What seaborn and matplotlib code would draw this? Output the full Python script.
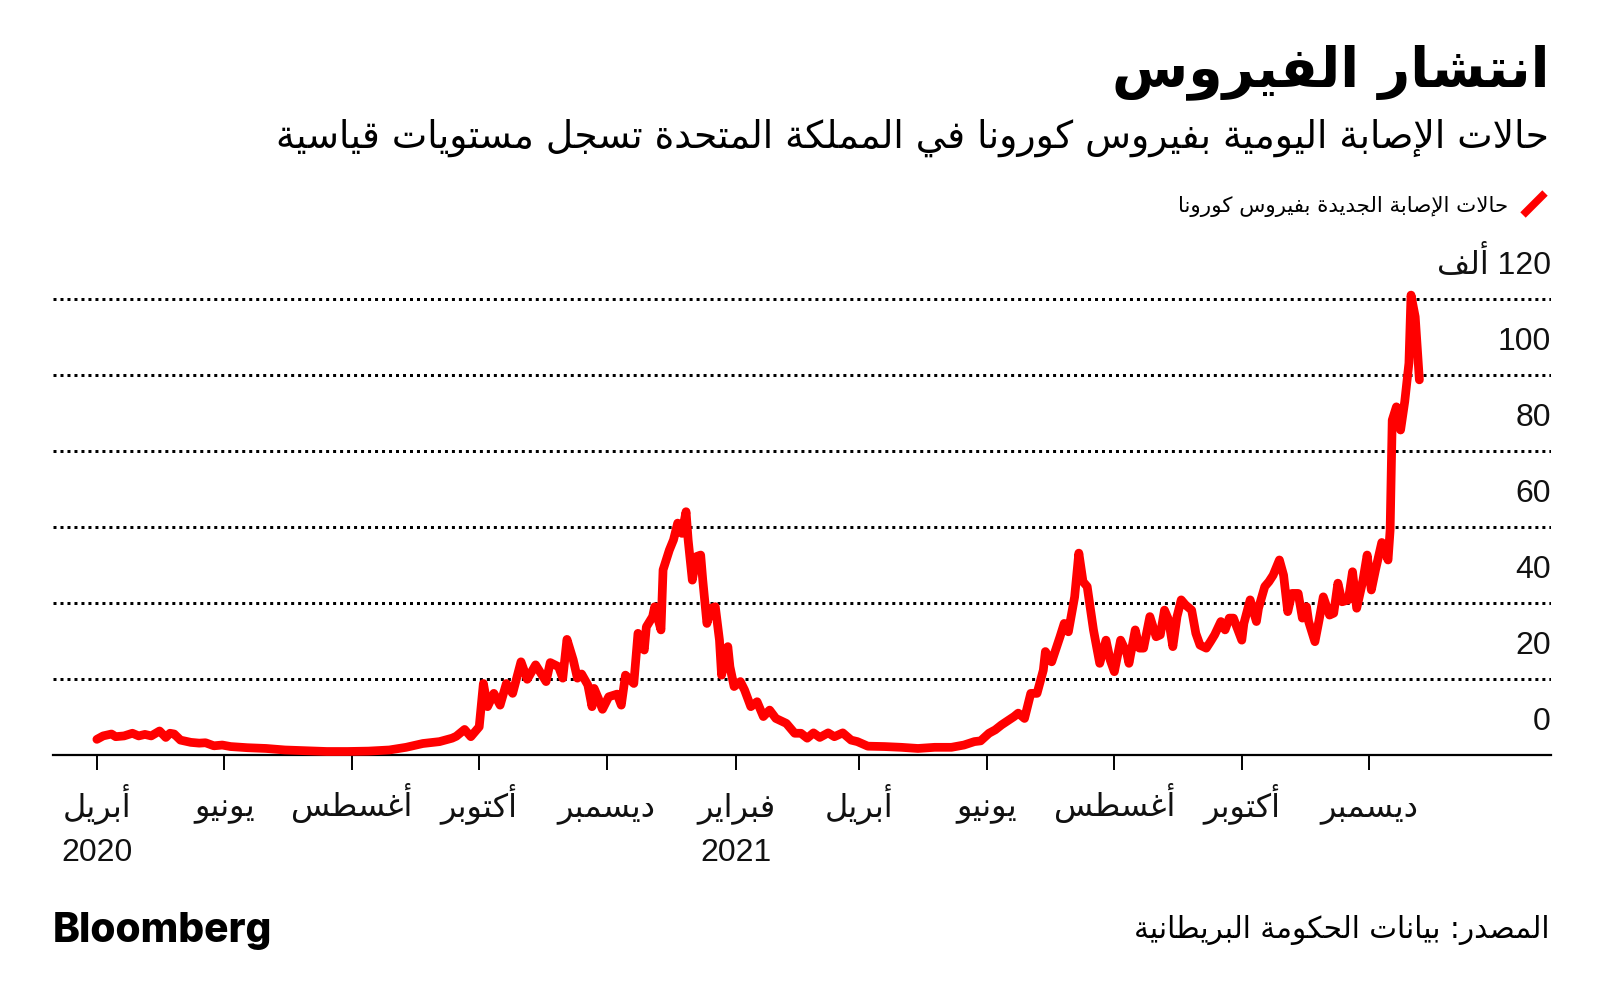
import re
import numpy as np
import pandas as pd
import matplotlib
matplotlib.use("Agg")
import matplotlib.pyplot as plt
from matplotlib.lines import Line2D
from matplotlib.transforms import offset_copy
import seaborn as sns

# ---------------- data ----------------
start_date = "2020-04-01"
day_offsets = [
    0, 3, 7, 9, 13, 17, 20, 23, 26, 30,
    33, 35, 37, 40, 45, 49, 52, 56, 60, 64,
    72, 81, 90, 100, 110, 120, 130, 140, 148, 156,
    164, 170, 172, 176, 179, 183, 185, 187, 190, 193,
    196, 199, 203, 206, 210, 215, 217, 221, 223, 225,
    228, 230, 232, 235, 237, 238, 240, 242, 245, 249,
    251, 253, 257, 259, 262, 263, 266, 267, 270, 271,
    274, 276, 278, 280, 282, 283, 285, 287, 289, 290,
    292, 294, 296, 298, 299, 302, 303, 305, 308, 310,
    313, 316, 319, 322, 325, 330, 334, 337, 340, 343,
    346, 350, 353, 357, 361, 364, 369, 377, 385, 393,
    401, 409, 415, 420, 423, 427, 430, 433, 439, 441,
    444, 447, 450, 453, 454, 457, 461, 463, 465, 468,
    470, 472, 474, 477, 480, 483, 485, 487, 490, 493,
    494, 497, 499, 501, 504, 507, 509, 511, 513, 515,
    517, 519, 521, 524, 526, 528, 531, 533, 535, 538,
    540, 542, 544, 548, 549, 552, 555, 556, 559, 561,
    563, 566, 568, 570, 572, 575, 577, 579, 580, 583,
    585, 587, 590, 592, 594, 596, 599, 601, 603, 606,
    608, 610, 612, 615, 618, 619, 620, 622, 624, 626,
    628, 629, 631, 633,
]
cases_thousands = [
    4.2, 5.1, 5.6, 4.9, 5.1, 5.8, 5.1, 5.5, 5.1, 6.4,
    4.7, 5.8, 5.6, 4.0, 3.4, 3.2, 3.3, 2.5, 2.7, 2.3,
    2.0, 1.8, 1.4, 1.2, 1.0, 1.0, 1.1, 1.4, 2.1, 3.1,
    3.6, 4.5, 5.0, 6.8, 4.9, 7.5, 18.9, 12.8, 16.3, 13.2,
    18.9, 16.3, 24.6, 20.0, 23.8, 19.4, 24.4, 23.3, 20.3, 30.5,
    25.1, 20.3, 21.4, 18.5, 12.8, 17.6, 15.0, 12.1, 15.4, 16.1,
    13.2, 21.1, 18.9, 32.1, 27.7, 33.8, 36.5, 39.1, 33.0, 48.8,
    54.0, 56.7, 61.1, 58.4, 64.1, 56.7, 46.1, 52.3, 52.7, 46.1,
    34.7, 38.7, 39.1, 30.3, 21.1, 28.6, 23.3, 18.1, 19.4, 17.2,
    12.8, 14.1, 10.2, 11.9, 9.7, 8.4, 5.8, 5.8, 4.5, 5.9,
    4.7, 5.9, 4.9, 5.9, 4.0, 3.6, 2.4, 2.3, 2.1, 1.8,
    2.1, 2.1, 2.7, 3.6, 3.8, 5.8, 6.7, 8.0, 10.2, 11.1,
    9.7, 16.3, 16.3, 22.4, 27.3, 24.6, 31.2, 34.7, 32.5, 41.7,
    53.2, 45.7, 44.4, 33.0, 24.2, 30.3, 25.1, 22.0, 30.3, 26.8,
    24.2, 33.0, 28.2, 28.2, 36.5, 31.2, 31.7, 38.2, 35.6, 28.6,
    36.5, 40.9, 39.6, 38.2, 32.1, 29.0, 28.2, 29.9, 31.7, 35.2,
    33.0, 36.1, 36.1, 30.3, 34.7, 40.9, 35.2, 38.7, 44.4, 45.7,
    47.4, 51.4, 47.4, 37.8, 42.6, 42.6, 36.1, 39.1, 35.2, 29.9,
    35.6, 41.7, 36.9, 37.4, 45.3, 40.4, 40.9, 48.3, 38.7, 46.1,
    52.7, 43.5, 48.8, 56.0, 51.4, 59.3, 88.2, 91.7, 85.6, 93.1,
    103.2, 121.1, 115.4, 98.8,
]

tick_dates = ["2020-04-01", "2020-06-01", "2020-08-01", "2020-10-01", "2020-12-01",
              "2021-02-01", "2021-04-01", "2021-06-01", "2021-08-01", "2021-10-01",
              "2021-12-01"]
month_names = ["أبريل", "يونيو", "أغسطس", "أكتوبر", "ديسمبر",
               "فبراير", "أبريل", "يونيو", "أغسطس", "أكتوبر", "ديسمبر"]
year_names = ["2020", "", "", "", "", "2021", "", "", "", "", ""]
y_values = [0, 20, 40, 60, 80, 100, 120]
y_labels = ["0", "20", "40", "60", "80", "100", "120 ألف"]

title_text = "انتشار الفيروس"
subtitle_text = "حالات الإصابة اليومية بفيروس كورونا في المملكة المتحدة تسجل مستويات قياسية"
legend_text = "حالات الإصابة الجديدة بفيروس كورونا"
source_text = "المصدر: بيانات الحكومة البريطانية"
brand_text = "Bloomberg"

# ---------------- minimal Arabic shaping + RTL ordering ----------------
_F = {  # isolated, final, initial, medial
    "\u0621": ("\uFE80", None, None, None),
    "\u0622": ("\uFE81", "\uFE82", None, None),
    "\u0623": ("\uFE83", "\uFE84", None, None),
    "\u0624": ("\uFE85", "\uFE86", None, None),
    "\u0625": ("\uFE87", "\uFE88", None, None),
    "\u0626": ("\uFE89", "\uFE8A", "\uFE8B", "\uFE8C"),
    "\u0627": ("\uFE8D", "\uFE8E", None, None),
    "\u0628": ("\uFE8F", "\uFE90", "\uFE91", "\uFE92"),
    "\u0629": ("\uFE93", "\uFE94", None, None),
    "\u062A": ("\uFE95", "\uFE96", "\uFE97", "\uFE98"),
    "\u062B": ("\uFE99", "\uFE9A", "\uFE9B", "\uFE9C"),
    "\u062C": ("\uFE9D", "\uFE9E", "\uFE9F", "\uFEA0"),
    "\u062D": ("\uFEA1", "\uFEA2", "\uFEA3", "\uFEA4"),
    "\u062E": ("\uFEA5", "\uFEA6", "\uFEA7", "\uFEA8"),
    "\u062F": ("\uFEA9", "\uFEAA", None, None),
    "\u0630": ("\uFEAB", "\uFEAC", None, None),
    "\u0631": ("\uFEAD", "\uFEAE", None, None),
    "\u0632": ("\uFEAF", "\uFEB0", None, None),
    "\u0633": ("\uFEB1", "\uFEB2", "\uFEB3", "\uFEB4"),
    "\u0634": ("\uFEB5", "\uFEB6", "\uFEB7", "\uFEB8"),
    "\u0635": ("\uFEB9", "\uFEBA", "\uFEBB", "\uFEBC"),
    "\u0636": ("\uFEBD", "\uFEBE", "\uFEBF", "\uFEC0"),
    "\u0637": ("\uFEC1", "\uFEC2", "\uFEC3", "\uFEC4"),
    "\u0638": ("\uFEC5", "\uFEC6", "\uFEC7", "\uFEC8"),
    "\u0639": ("\uFEC9", "\uFECA", "\uFECB", "\uFECC"),
    "\u063A": ("\uFECD", "\uFECE", "\uFECF", "\uFED0"),
    "\u0641": ("\uFED1", "\uFED2", "\uFED3", "\uFED4"),
    "\u0642": ("\uFED5", "\uFED6", "\uFED7", "\uFED8"),
    "\u0643": ("\uFED9", "\uFEDA", "\uFEDB", "\uFEDC"),
    "\u0644": ("\uFEDD", "\uFEDE", "\uFEDF", "\uFEE0"),
    "\u0645": ("\uFEE1", "\uFEE2", "\uFEE3", "\uFEE4"),
    "\u0646": ("\uFEE5", "\uFEE6", "\uFEE7", "\uFEE8"),
    "\u0647": ("\uFEE9", "\uFEEA", "\uFEEB", "\uFEEC"),
    "\u0648": ("\uFEED", "\uFEEE", None, None),
    "\u0649": ("\uFEEF", "\uFEF0", None, None),
    "\u064A": ("\uFEF1", "\uFEF2", "\uFEF3", "\uFEF4"),
}
_LA = {"\u0622": ("\uFEF5", "\uFEF6"), "\u0623": ("\uFEF7", "\uFEF8"),
       "\u0625": ("\uFEF9", "\uFEFA"), "\u0627": ("\uFEFB", "\uFEFC")}


def _dual(c):
    return c in _F and _F[c][2] is not None


def _joins(c):
    return c in _F and _F[c][1] is not None


def _shape(s):
    out, i, n = [], 0, len(s)
    while i < n:
        c = s[i]
        if c not in _F:
            out.append(c)
            i += 1
            continue
        prev = s[i - 1] if i > 0 else None
        cp = prev is not None and _dual(prev) and _joins(c)
        if c == "\u0644" and i + 1 < n and s[i + 1] in _LA:
            iso, fin = _LA[s[i + 1]]
            out.append(fin if cp else iso)
            i += 2
            continue
        nxt = s[i + 1] if i + 1 < n else None
        cn = _dual(c) and nxt is not None and _joins(nxt)
        iso, fin, ini, med = _F[c]
        out.append(med if (cp and cn) else fin if cp else ini if cn else iso)
        i += 1
    return "".join(out)


def vis(s):
    """Right-to-left paragraph: shape, reverse, keep digit/latin runs LTR."""
    r = _shape(s)[::-1]
    return re.sub(r"[0-9A-Za-z]+", lambda m: m.group(0)[::-1], r)


# ---------------- figure ----------------
W, H = 1600, 1006
sns.set_theme(style="white")
AR = ["DejaVu Sans"]
MIX = ["Liberation Sans", "DejaVu Sans"]
plt.rcParams["font.family"] = MIX

fig = plt.figure(figsize=(W / 100, H / 100), dpi=100)
fig.patch.set_facecolor("white")


def px(x, y):
    return x / W, 1 - y / H


ax_l, ax_r, ax_b, ax_t = 53, 1551, 755.3, 291.7
ax = fig.add_axes([ax_l / W, 1 - ax_b / H, (ax_r - ax_l) / W, (ax_b - ax_t) / H])
ax.set_facecolor("white")

df = pd.DataFrame({
    "date": pd.Timestamp(start_date) + pd.to_timedelta(day_offsets, unit="D"),
    "cases": cases_thousands,
})
sns.lineplot(data=df, x="date", y="cases", ax=ax, color="#FF0000",
             linewidth=6.3, zorder=5)
for ln in ax.get_lines():
    ln.set_solid_joinstyle("round")
    ln.set_solid_capstyle("round")
    ln.set_clip_on(False)

ax.set_xlim(pd.Timestamp("2020-03-11"), pd.Timestamp("2022-02-26"))
ax.set_ylim(0, 122)
ax.set_xlabel("")
ax.set_ylabel("")

# grid
ax.set_yticks(y_values[1:])
ax.yaxis.grid(True, color="black", linestyle=(0, (1, 1.33)), linewidth=2.16)
ax.xaxis.grid(False)
ax.tick_params(axis="y", left=False, right=False, labelleft=False, labelright=False)
for sp in ["top", "left", "right"]:
    ax.spines[sp].set_visible(False)
ax.spines["bottom"].set_color("black")
ax.spines["bottom"].set_linewidth(1.6)
ax.spines["bottom"].set_zorder(3)

# x ticks + labels (baseline-aligned like the reference)
ax.set_xticks(pd.to_datetime(tick_dates))
ax.tick_params(axis="x", bottom=True, length=10.8, width=1.4, color="black",
               labelbottom=False, direction="out")
mtr = offset_copy(ax.get_xaxis_transform(), fig=fig, x=0, y=-43.5, units="points")
ytr_year = offset_copy(ax.get_xaxis_transform(), fig=fig, x=0, y=-76.0, units="points")
for d, m, yr in zip(pd.to_datetime(tick_dates), month_names, year_names):
    ax.text(d, 0, vis(m), transform=mtr, ha="center", va="baseline",
            fontsize=23, color="#111111", family=MIX)
    if yr:
        ax.text(d, 0, yr, transform=ytr_year, ha="center", va="baseline",
                fontsize=23, color="#111111", family=MIX)

# y labels (above the grid lines, right aligned)
ytr = offset_copy(ax.get_yaxis_transform(), fig=fig, x=0, y=18.0, units="points")
for v, lab in zip(y_values, y_labels):
    ax.text(1.0, v, vis(lab), transform=ytr, ha="right", va="baseline",
            fontsize=23, color="#111111", family=MIX)

# ---------------- texts ----------------
renderer = fig.canvas.get_renderer()


def fit(t, target):
    w = t.get_window_extent(renderer).width
    t.set_fontsize(t.get_fontsize() * target / w)


t_title = fig.text(*px(1549, 86), vis(title_text), ha="right", va="baseline",
                   fontsize=44, fontweight="bold", family=AR, color="black")
fit(t_title, 437)
t_sub = fig.text(*px(1549, 148), vis(subtitle_text), ha="right", va="baseline",
                 fontsize=24, family=AR, color="black")
fit(t_sub, 1281)
t_leg = fig.text(*px(1508, 212), vis(legend_text), ha="right", va="baseline",
                 fontsize=15, family=AR, color="black")
fit(t_leg, 333)
fig.add_artist(Line2D([1523 / W, 1545 / W], [1 - 215 / H, 1 - 193 / H],
                      transform=fig.transFigure, color="#FF0000", linewidth=5.5,
                      solid_capstyle="butt"))
t_src = fig.text(*px(1549, 938), vis(source_text), ha="right", va="baseline",
                 fontsize=20, family=AR, color="black")
fit(t_src, 416)
t_brand = fig.text(*px(53, 942), brand_text, ha="left", va="baseline",
                   fontsize=28, fontweight="heavy", family=["Inter", "Liberation Sans"],
                   color="black")
fit(t_brand, 220)

fig.savefig("out.png", dpi=100, facecolor="white")
